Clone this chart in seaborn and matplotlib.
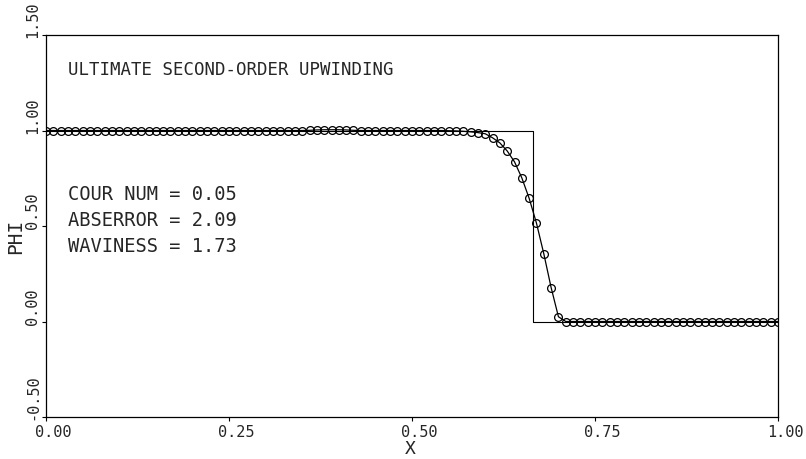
import numpy as np
import pandas as pd
import matplotlib
matplotlib.use("Agg")
import matplotlib.pyplot as plt
import matplotlib.transforms as mtransforms
import seaborn as sns

# grid of 101 nodes, x = 0.00 ... 1.00
x_grid = np.round(np.arange(101) / 100, 2)

# computed PHI (circles)
phi_num = [
    1.000, 1.000, 1.000, 1.000, 1.000, 1.000, 1.000, 1.000, 1.000, 1.000,
    1.000, 1.000, 1.000, 1.000, 1.000, 1.000, 1.000, 1.000, 1.000, 1.000,
    1.000, 1.000, 1.000, 1.000, 1.000, 1.000, 1.000, 1.000, 1.000, 1.000,
    1.000, 1.000, 1.000, 1.000, 1.000, 1.000, 1.001, 1.003, 1.004, 1.004,
    1.004, 1.003, 1.001, 1.000, 1.000, 1.000, 1.000, 1.000, 1.000, 1.000,
    1.000, 1.000, 1.000, 1.000, 1.000, 0.999, 0.998, 0.996, 0.993, 0.989,
    0.983, 0.962, 0.935, 0.893, 0.836, 0.752, 0.645, 0.515, 0.355, 0.178,
    0.025, 0.000, 0.000, 0.000, 0.000, 0.000, 0.000, 0.000, 0.000, 0.000,
    0.000, 0.000, 0.000, 0.000, 0.000, 0.000, 0.000, 0.000, 0.000, 0.000,
    0.000, 0.000, 0.000, 0.000, 0.000, 0.000, 0.000, 0.000, 0.000, 0.000,
    0.000,
]

# exact step profile
step_x = [0.0, 0.665, 0.665, 1.0]
step_phi = [1.0, 1.0, 0.0, 0.0]

x_ticks = [0.0, 0.25, 0.5, 0.75, 1.0]
y_ticks = [-0.5, 0.0, 0.5, 1.0, 1.5]
tick_labels_x = ["0.00", "0.25", "0.50", "0.75", "1.00"]
tick_labels_y = ["-0.50", "0.00", "0.50", "1.00", "1.50"]

title = "ULTIMATE SECOND-ORDER UPWINDING"
stats = ["COUR NUM = 0.05", "ABSERROR = 2.09", "WAVINESS = 1.73"]

sns.set_style("ticks")
plt.rcParams["font.family"] = ["DejaVu Sans Mono", "DejaVu Sans"]

df_num = pd.DataFrame({"x": x_grid, "phi": phi_num})
df_step = pd.DataFrame({"x": step_x, "phi": step_phi})

fig = plt.figure(figsize=(8.06, 4.6), dpi=100)
ax = fig.add_axes([0.0571, 0.0913, 0.9082, 0.8304])

sns.lineplot(data=df_step, x="x", y="phi", ax=ax, color="black",
             linewidth=0.8, estimator=None, sort=False)
sns.lineplot(data=df_num, x="x", y="phi", ax=ax, color="black",
             linewidth=0.9, marker="o", markersize=5.6,
             markerfacecolor="none", markeredgecolor="black",
             markeredgewidth=0.9, estimator=None, sort=False)

ax.set_xlim(0, 1)
ax.set_ylim(-0.5, 1.5)
ax.set_xticks(x_ticks)
ax.set_yticks(y_ticks)
ax.set_xticklabels(tick_labels_x, fontsize=11)
ax.set_yticklabels(tick_labels_y, fontsize=11)
ax.tick_params(axis="both", direction="out", length=3, width=0.8,
               color="black", pad=2)
ax.tick_params(axis="y", pad=1)

for sp in ax.spines.values():
    sp.set_linewidth(0.9)
    sp.set_color("black")

# x tick labels sit a bit to the right of their ticks
shift = mtransforms.ScaledTranslation(7 / 100, 0, fig.dpi_scale_trans)
for lab in ax.get_xticklabels():
    lab.set_transform(lab.get_transform() + shift)

# y tick labels rotated, starting at the tick and running upward
yshift = mtransforms.ScaledTranslation(0, -2 / 100, fig.dpi_scale_trans)
for lab in ax.get_yticklabels():
    lab.set_rotation(90)
    lab.set_rotation_mode("anchor")
    lab.set_ha("left")
    lab.set_va("bottom")
    lab.set_transform(lab.get_transform() + yshift)

ax.set_xlabel("X", fontsize=13)
ax.set_ylabel("PHI", fontsize=14)
ax.xaxis.set_label_coords(0.497, -0.058)
ax.yaxis.set_label_coords(-0.029, 0.476)

ax.text(0.030, 0.898, title, transform=ax.transAxes, fontsize=12.5,
        ha="left", va="baseline")
for i, s in enumerate(stats):
    ax.text(0.030, 0.5707 - i * 0.068, s, transform=ax.transAxes,
            fontsize=13.5, ha="left", va="baseline")

fig.savefig("out.png", dpi=100, facecolor="white")
